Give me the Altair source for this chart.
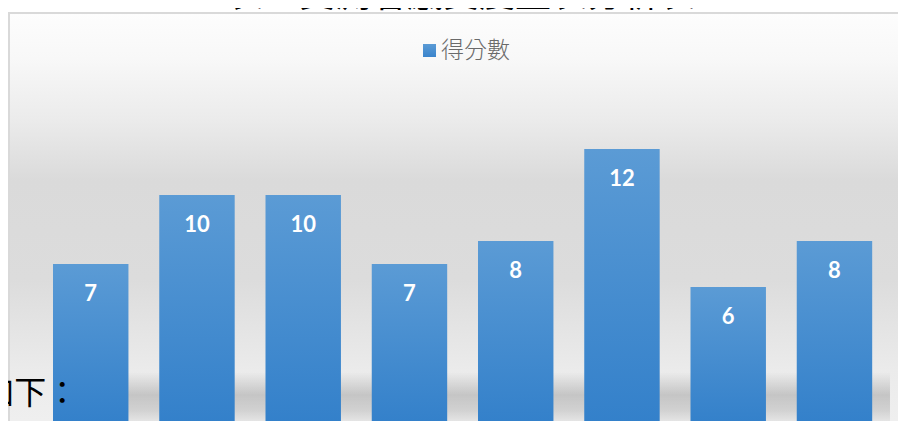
import altair as alt
import pandas as pd

# ---- data ----
categories = ["1", "2", "3", "4", "5", "6", "7", "8"]
scores = [7, 10, 10, 7, 8, 12, 6, 8]
series_name = "得分數"
title_text = "表 4 受測者感受度量表分析表"
body_text = "如下："

df = pd.DataFrame({"item": categories, "score": scores})
one = pd.DataFrame({"a": [0]})

W, H = 850, 322


def vgrad(stops):
    return alt.Gradient(
        gradient="linear", x1=0, x2=0, y1=0, y2=1,
        stops=[alt.GradientStop(offset=o, color=c) for o, c in stops],
    )


bg = alt.Chart(one).mark_rect(
    fill=vgrad([
        (0.0, "#fdfdfd"), (0.11, "#f8f8f8"), (0.255, "#ebebeb"),
        (0.40, "#dadada"), (0.635, "#dcdcdc"), (0.85, "#ebebeb"), (1.0, "#f0f0f0"),
    ]),
    stroke="#d9d9d9", strokeWidth=2,
).encode(x=alt.value(-28.6), x2=alt.value(885), y=alt.value(-90), y2=alt.value(330))

shadow = alt.Chart(one).mark_rect(
    fill=vgrad([
        (0.0, "rgba(0,0,0,0)"), (0.45, "rgba(0,0,0,0.17)"),
        (0.75, "rgba(0,0,0,0.12)"), (1.0, "rgba(0,0,0,0.03)"),
    ]),
).encode(x=alt.value(15.4), x2=alt.value(852.4), y=alt.value(269), y2=alt.value(320))

xenc = alt.X("item:N", sort=categories, axis=None,
             scale=alt.Scale(paddingInner=0.29, paddingOuter=0.145))
yenc = alt.Y("score:Q", axis=None, scale=alt.Scale(domain=[0, 14]))

bars = alt.Chart(df).mark_bar(
    fill=vgrad([(0.0, "#5b9bd5"), (1.0, "#3380ca")]),
).encode(x=xenc, y=yenc)

labels = alt.Chart(df).mark_text(
    dy=30, baseline="middle", font="Lato", fontWeight="bold",
    fontSize=22, color="white",
).encode(x=xenc, y=yenc, text="score:Q")

leg_sym = alt.Chart(one).mark_rect(
    fill=vgrad([(0.0, "#5b9bd5"), (1.0, "#3a84cc")]),
).encode(x=alt.value(385.4), x2=alt.value(398.4), y=alt.value(-59), y2=alt.value(-46))

leg_txt = alt.Chart(one).mark_text(
    text=series_name, align="left", baseline="middle",
    font="Noto Sans CJK TC", fontSize=23, fontWeight=300, color="#6a6a6a",
).encode(x=alt.value(403.4), y=alt.value(-52))

title = alt.Chart(one).mark_text(
    text=title_text, align="center", baseline="alphabetic",
    font="Noto Sans CJK TC", fontSize=36, color="black",
).encode(x=alt.value(423.4), y=alt.value(-96.5))

body = alt.Chart(one).mark_text(
    text=body_text, align="right", baseline="middle",
    font="Noto Sans CJK TC", fontSize=32, color="black",
).encode(x=alt.value(40.6), y=alt.value(291))

chart = alt.layer(bg, shadow, bars, labels, leg_sym, leg_txt, title, body).properties(
    width=W, height=H,
    autosize=alt.AutoSizeParams(type="none"),
    padding={"left": 29.6, "top": 95, "right": 10, "bottom": 40},
).configure_view(strokeWidth=0)

chart.save("out.html", embed_options={"renderer": "svg", "actions": False})
